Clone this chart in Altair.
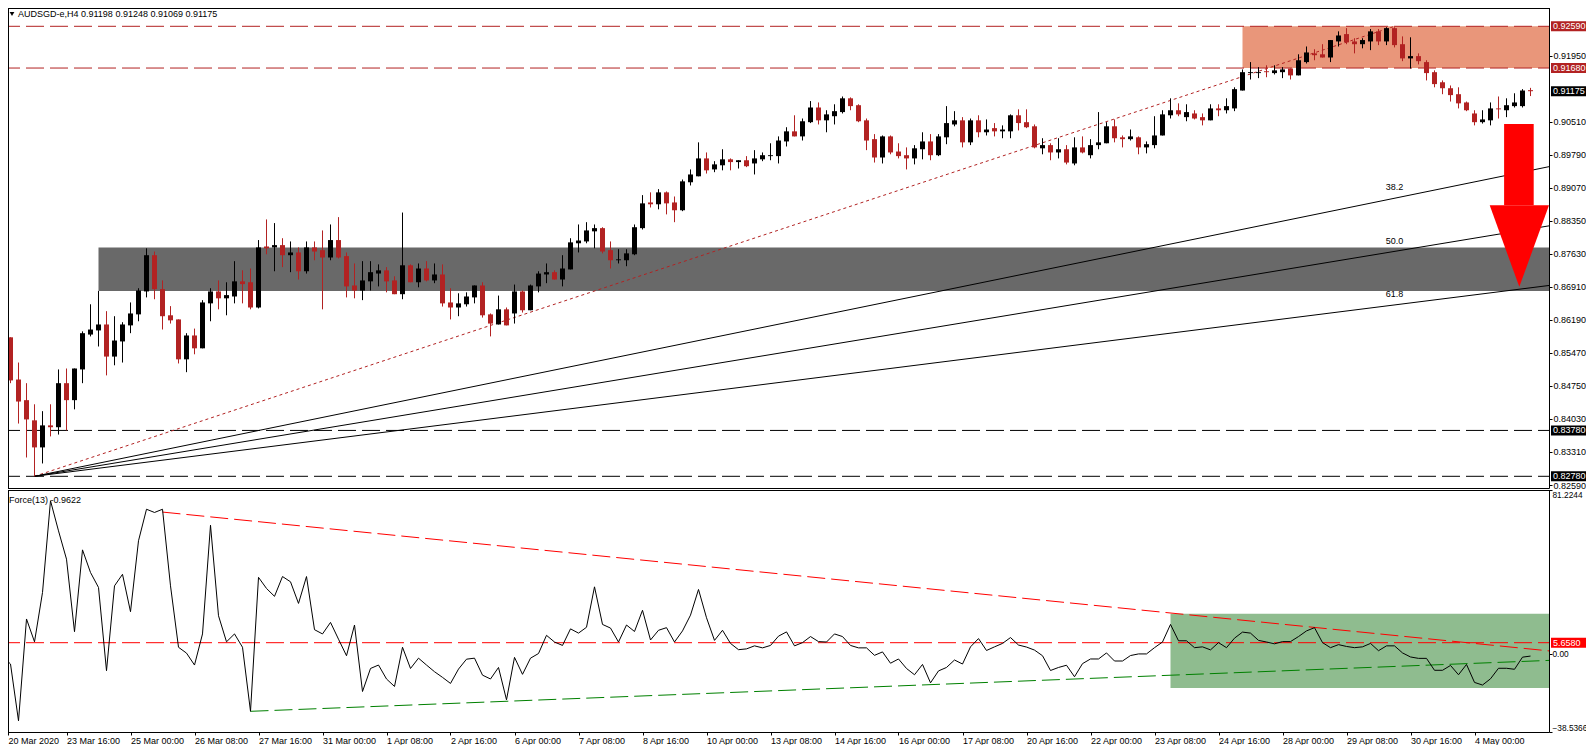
import altair as alt
import pandas as pd

FONT = "Liberation Sans"
FONT_SIZE = 9

# candles, one per 4 hours
opens = [
    .8473, .8581, .8489, .8444, .8400, .8341, .8389, .8385, .8481, .8444,
    .8511, .8587, .8596, .8609, .8539, .8572, .8607, .8631, .8681, .8760,
    .8686, .8629, .8620, .8533, .8585, .8557, .8655, .8681, .8666, .8670,
    .8703, .8701, .8646, .8779, .8777, .8782, .8760, .8766, .8725, .8777,
    .8771, .8755, .8793, .8758, .8694, .8683, .8703, .8720, .8727, .8705,
    .8675, .8738, .8701, .8731, .8705, .8718, .8657, .8646, .8653, .8668,
    .8694, .8631, .8609, .8642, .8633, .8681, .8640, .8692, .8718, .8723,
    .8707, .8729, .8786, .8790, .8812, .8819, .8771, .8749, .8749, .8762,
    .8819, .8875, .8871, .8897, .8875, .8858, .8919, .8932, .8971, .8947,
    .8956, .8969, .8963, .8967, .8960, .8969, .8976, .8976, .9008, .9030,
    .9019, .9050, .9082, .9054, .9063, .9072, .9102, .9087, .9054, .9013,
    .8973, .9019, .8986, .8978, .8971, .8991, .9008, .8978, .9017, .9045,
    .9054, .9006, .9054, .9028, .9037, .9030, .9030, .9065, .9050, .9041,
    .8993, .9000, .8984, .8991, .8960, .8995, .8978, .9000, .9004, .9041,
    .9017, .9013, .9017, .8995, .9000, .9021, .9065, .9076, .9061, .9069,
    .9061, .9054, .9080, .9076, .9080, .9119, .9157, .9157, .9161, .9157,
    .9159, .9167, .9152, .9181, .9200, .9198, .9191, .9226, .9242, .9226,
    .9220, .9226, .9248, .9226, .9255, .9220, .9189, .9194, .9181, .9159,
    .9137, .9124, .9111, .9093, .9069, .9050, .9054, .9080, .9076, .9085,
    .9085, .91198,
]
closes = [
    .8581, .8487, .8441, .8402, .8341, .8389, .8385, .8481, .8444, .8513,
    .8590, .8598, .8609, .8539, .8574, .8609, .8633, .8683, .8760, .8686,
    .8627, .8618, .8533, .8585, .8557, .8657, .8681, .8666, .8673, .8703,
    .8697, .8646, .8777, .8775, .8782, .8760, .8766, .8725, .8777, .8768,
    .8755, .8793, .8755, .8692, .8683, .8705, .8723, .8727, .8703, .8675,
    .8738, .8701, .8731, .8705, .8718, .8655, .8646, .8655, .8670, .8694,
    .8629, .8611, .8642, .8607, .8681, .8640, .8694, .8720, .8723, .8707,
    .8731, .8788, .8792, .8814, .8819, .8768, .8749, .8751, .8764, .8821,
    .8873, .8871, .8897, .8873, .8858, .8921, .8936, .8971, .8945, .8958,
    .8969, .8963, .8967, .8954, .8971, .8978, .8978, .9010, .9030, .9019,
    .9052, .9082, .9054, .9067, .9074, .9102, .9085, .9052, .9010, .8973,
    .9019, .8984, .8976, .8971, .8993, .9008, .8978, .9019, .9048, .9054,
    .9006, .9054, .9028, .9034, .9030, .9034, .9065, .9048, .9039, .8995,
    .9000, .8984, .8991, .8962, .8995, .8984, .9000, .9006, .9041, .9015,
    .9013, .9019, .8995, .9002, .9021, .9067, .9076, .9067, .9072, .9058,
    .9054, .9080, .9076, .9085, .9122, .9159, .9159, .9159, .9159, .9163,
    .9165, .9152, .9185, .9202, .9196, .9191, .9229, .9239, .9224, .9220,
    .9229, .9248, .9226, .9255, .9218, .9189, .9194, .9183, .9157, .9133,
    .9124, .9109, .9091, .9076, .9050, .9056, .9080, .9078, .9087, .9093,
    .9119, .91175,
]
highs = [
    .8633, .8581, .8526, .8481, .8435, .8420, .8435, .8511, .8513, .8513,
    .8594, .8653, .8682, .8638, .8627, .8614, .8657, .8688, .8775, .8768,
    .8705, .8649, .8620, .8590, .8600, .8662, .8688, .8705, .8701, .8747,
    .8727, .8731, .8793, .8838, .8830, .8797, .8790, .8777, .8790, .8790,
    .8814, .8827, .8843, .8766, .8742, .8747, .8747, .8740, .8734, .8714,
    .8853, .8740, .8742, .8747, .8742, .8740, .8688, .8677, .8679, .8694,
    .8701, .8633, .8672, .8646, .8696, .8683, .8696, .8725, .8742, .8727,
    .8760, .8797, .8827, .8832, .8827, .8821, .8790, .8773, .8773, .8827,
    .8891, .8897, .8904, .8899, .8888, .8925, .8947, .9006, .8984, .8965,
    .8991, .8971, .8967, .8976, .8989, .8984, .9004, .9019, .9039, .9065,
    .9058, .9096, .9093, .9076, .9089, .9106, .9104, .9089, .9058, .9024,
    .9021, .9021, .9004, .8995, .9000, .9028, .9024, .9024, .9085, .9074,
    .9061, .9058, .9065, .9056, .9048, .9043, .9067, .9078, .9078, .9045,
    .9015, .9004, .9015, .9000, .9017, .9019, .9013, .9072, .9050, .9056,
    .9021, .9034, .9019, .9008, .9063, .9076, .9102, .9091, .9089, .9076,
    .9069, .9089, .9089, .9102, .9126, .9165, .9181, .9170, .9174, .9174,
    .9170, .9167, .9198, .9215, .9209, .9220, .9229, .9248, .9255, .9233,
    .9233, .9253, .9253, .9257, .9257, .9237, .9235, .9200, .9185, .9163,
    .9141, .9130, .9126, .9095, .9076, .9076, .9093, .9106, .9102, .9113,
    .9122, .91248,
]
lows = [
    .8464, .8481, .8393, .8319, .8278, .8306, .8365, .8369, .8378, .8424,
    .8481, .8583, .8561, .8498, .8520, .8526, .8590, .8616, .8668, .8664,
    .8598, .8611, .8524, .8505, .8544, .8557, .8616, .8642, .8629, .8655,
    .8655, .8642, .8644, .8762, .8725, .8734, .8723, .8707, .8720, .8749,
    .8642, .8749, .8753, .8668, .8666, .8662, .8683, .8692, .8679, .8675,
    .8664, .8701, .8690, .8703, .8699, .8648, .8620, .8627, .8648, .8655,
    .8624, .8583, .8609, .8607, .8611, .8635, .8640, .8679, .8699, .8707,
    .8692, .8729, .8766, .8786, .8775, .8764, .8731, .8742, .8736, .8760,
    .8816, .8864, .8860, .8849, .8832, .8856, .8912, .8932, .8938, .8941,
    .8945, .8945, .8949, .8952, .8936, .8965, .8967, .8960, .8997, .9019,
    .9010, .9048, .9045, .9028, .9045, .9069, .9076, .9050, .8989, .8962,
    .8960, .8980, .8971, .8947, .8958, .8969, .8967, .8976, .9002, .9041,
    .8995, .9000, .9017, .9021, .9019, .9015, .9015, .9032, .9037, .8993,
    .8980, .8967, .8971, .8958, .8956, .8982, .8971, .8991, .9004, .9006,
    .8995, .9010, .8980, .8982, .8993, .9021, .9058, .9063, .9052, .9056,
    .9043, .9054, .9063, .9069, .9074, .9119, .9143, .9146, .9148, .9154,
    .9146, .9143, .9152, .9178, .9185, .9191, .9181, .9215, .9220, .9200,
    .9211, .9207, .9218, .9218, .9213, .9183, .9167, .9176, .9141, .9126,
    .9111, .9095, .9080, .9074, .9043, .9047, .9043, .9058, .9061, .9082,
    .9082, .91069,
]

# force index, same bars
force_values = [
    -0.97, -4.9, -33.0, 17.4, 6.1, 30.5, 75.9, 61.0, 47.0, 11.1,
    51.6, 40.4, 33.0, -8.2, 33.8, 39.5, 21.0, 56.1, 71.7, 70.1,
    71.7, 33.8, 3.4, 0.5, -5.4, 10.0, 63.8, 19.0, 6.1, 10.0,
    3.4, -28.3, 38.0, 32.5, 28.6, 38.4, 35.8, 25.1, 38.4, 12.1,
    10.0, 15.7, 7.4, -0.8, 14.4, -18.5, -7.1, -5.4, -12.3, -16.0,
    3.4, -7.1, -2.0, -5.4, -8.7, -11.5, -14.5, -7.4, -2.5, -2.0,
    -10.4, -12.3, -6.6, -22.6, -1.6, -10.0, -2.0, 0.3, 9.3, 6.0,
    4.3, 12.5, 10.4, 13.3, 33.3, 14.7, 12.9, 6.0, 14.4, 11.2,
    21.7, 7.0, 11.8, 13.1, 6.0, 11.5, 19.3, 32.0, 18.0, 6.8,
    11.8, 5.3, 2.2, 2.6, 4.1, 3.1, 4.3, 8.9, 11.0, 4.1,
    5.7, 8.7, 6.2, 6.0, 10.0, 8.7, 4.3, 3.1, 3.1, -0.6,
    1.1, -4.5, -2.4, -7.1, -10.2, -5.1, -14.2, -8.3, -6.6, -2.9,
    -4.9, 3.6, 7.7, 1.8, 3.6, 5.3, 8.2, 4.5, 3.5, 2.0,
    -0.8, -8.1, -6.6, -5.5, -11.2, -4.7, -2.4, -2.4, 0.6, -3.4,
    -3.4, -0.7, 0.1, 0.1, 3.2, 6.0, 14.7, 6.6, 6.6, 3.2,
    3.6, 2.1, 5.7, 3.2, 7.9, 10.9, 10.4, 6.8, 6.0, 5.1,
    6.2, 6.2, 8.7, 11.5, 13.1, 5.7, 3.2, 4.7, 3.8, 3.2,
    3.6, 5.3, 1.7, 4.1, 4.1, 0.6, -1.4, -2.1, -2.1, -8.0,
    -8.0, -5.6, -10.2, -5.1, -14.0, -15.3, -12.2, -7.0, -7.0, -7.5,
    -1.5, -0.96,
]

date_labels = [
    "20 Mar 2020", "23 Mar 16:00", "25 Mar 00:00", "26 Mar 08:00", "27 Mar 16:00",
    "31 Mar 00:00", "1 Apr 08:00", "2 Apr 16:00", "6 Apr 00:00", "7 Apr 08:00",
    "8 Apr 16:00", "10 Apr 00:00", "13 Apr 08:00", "14 Apr 16:00", "16 Apr 00:00",
    "17 Apr 08:00", "20 Apr 16:00", "22 Apr 00:00", "23 Apr 08:00", "24 Apr 16:00",
    "28 Apr 00:00", "29 Apr 08:00", "30 Apr 16:00", "4 May 00:00",
]
price_ticks = [
    .9195, .9051, .8979, .8907, .8835, .8763, .8691, .8619, .8547, .8475,
    .8403, .8331, .8259,
]
force_ticks = [81.2244, 0, -38.5366]

WIDTH = 1541
PRICE_BOTTOM = 480
FORCE_TOP, FORCE_BOTTOM = 482, 724
TAG_LEFT, TAG_RIGHT = 1543, 1578

X_MIN, X_MAX = 0.6875, 193.3125
PRICE_MIN, PRICE_MAX = 0.82525, 0.92989
FORCE_MIN, FORCE_MAX = -38.5366, 81.2244

FIRST_BAR, HIGH_BAR, LOW_PRICE, HIGH_PRICE = 4, 174, 0.8278, 0.9259

bars = pd.DataFrame({"bar": range(len(opens)), "open": opens, "close": closes, "high": highs, "low": lows})
bars["direction"] = ["up" if c >= o else "down" for o, c in zip(opens, closes)]
force = pd.DataFrame({"bar": range(len(force_values)), "force": force_values})

x_scale = alt.Scale(domain=[X_MIN, X_MAX], nice=False, zero=False)
price_scale = alt.Scale(domain=[PRICE_MIN, PRICE_MAX], range=[PRICE_BOTTOM, 0], nice=False, zero=False)
force_scale = alt.Scale(domain=[FORCE_MIN, FORCE_MAX], range=[FORCE_BOTTOM, FORCE_TOP], nice=False, zero=False)

# every layer has to carry the same axis or Vega-Lite drops the merge
date_axis = alt.Axis(values=[X_MIN] + [8 * k for k in range(1, len(date_labels))],
                     labelExpr="[" + ",".join(f"'{d}'" for d in date_labels) + "][round(datum.value / 8)]",
                     title=None, grid=False, domain=False, tickSize=3, labelAlign="left",
                     labelPadding=1, labelOverlap=False, labelBound=False, labelFlush=False)
price_axis = alt.Axis(orient="right", values=price_ticks, format=".5f", title=None, grid=False,
                      domain=False, tickSize=3, labelPadding=1, labelOverlap=False)
force_axis = alt.Axis(orient="right", values=force_ticks, title=None, grid=False, domain=False, tickSize=3,
                      labelPadding=0, labelFontSize=8.3, labelFlush=True, labelOverlap=False,
                      labelExpr="datum.value == 0 ? '0.00' : format(datum.value, '.4f')")


def x_enc(field):
    return alt.X(field, type="quantitative", scale=x_scale, axis=date_axis)


def price_enc(field):
    return alt.Y(field, type="quantitative", scale=price_scale, axis=price_axis)


def force_enc(field):
    return alt.Y(field, type="quantitative", scale=force_scale, axis=force_axis)


def zones(rows, color, y_enc):
    return alt.Chart(pd.DataFrame(rows)).mark_rect(color=color, clip=True).encode(
        x=x_enc("x"), x2="x2", y=y_enc("y"), y2="y2")


def segments(rows, color, y_enc, dash=(18, 6), offset=0):
    return alt.Chart(pd.DataFrame(rows)).mark_rule(
        color=color, strokeWidth=1, strokeDash=list(dash), strokeDashOffset=offset, clip=True
    ).encode(x=x_enc("x"), x2="x2", y=y_enc("y"), y2="y2")


def tags(rows, y_enc):
    df = pd.DataFrame(rows)
    box = alt.Chart(df).mark_rule(strokeWidth=10).encode(
        x=alt.value(TAG_LEFT), x2=alt.value(TAG_RIGHT), y=y_enc("value"),
        color=alt.Color("fill:N", scale=None))
    text = alt.Chart(df).mark_text(align="left", baseline="middle", font=FONT, fontSize=FONT_SIZE, color="white").encode(
        x=alt.value(TAG_LEFT + 2), y=y_enc("value"), text="label:N")
    return [box, text]


def caption(label, x, y):
    return alt.Chart(pd.DataFrame({"label": [label]})).mark_text(
        align="left", baseline="middle", font=FONT, fontSize=FONT_SIZE, color="black"
    ).encode(x=alt.value(x), y=alt.value(y), text="label:N")


def frame_line(x, x2, y, y2):
    return alt.Chart(pd.DataFrame({"m": [1]})).mark_rule(color="black", strokeWidth=1).encode(
        x=alt.value(x), x2=alt.value(x2), y=alt.value(y), y2=alt.value(y2))


# price panel
candle_color = alt.Color("direction:N", scale=alt.Scale(domain=["up", "down"], range=["#000000", "#B22222"]), legend=None)

wicks = alt.Chart(bars).mark_rule(strokeWidth=1, clip=True).encode(
    x=x_enc("bar"), y=price_enc("high"), y2="low", color=candle_color)
bodies = alt.Chart(bars).mark_rule(strokeWidth=5, clip=True).encode(
    x=x_enc("bar"), y=price_enc("open"), y2="close", color=candle_color)

gray_zone = zones([{"x": 12, "x2": X_MAX, "y": 0.8777, "y2": 0.8682}], "#696969", price_enc)
orange_zone = zones([{"x": 155, "x2": X_MAX, "y": 0.9259, "y2": 0.9168}], "#E9967A", price_enc)

red_levels = segments([
    {"x": X_MIN, "x2": X_MAX, "y": 0.9259, "y2": 0.9259},
    {"x": X_MIN, "x2": X_MAX, "y": 0.9168, "y2": 0.9168},
], "#B22222", price_enc, offset=6)
black_levels = segments([
    {"x": X_MIN, "x2": X_MAX, "y": 0.8378, "y2": 0.8378},
    {"x": X_MIN, "x2": X_MAX, "y": 0.8278, "y2": 0.8278},
], "#000000", price_enc, offset=6)
fan_base = segments([{"x": FIRST_BAR, "x2": HIGH_BAR, "y": LOW_PRICE, "y2": HIGH_PRICE}], "#B22222", price_enc, dash=(3, 3))
fan_lines = alt.Chart(pd.DataFrame({
    "x": [FIRST_BAR] * 3, "x2": [X_MAX] * 3, "y": [LOW_PRICE] * 3, "y2": [0.8953, 0.8824, 0.8694],
})).mark_rule(color="black", strokeWidth=1, clip=True).encode(x=x_enc("x"), x2="x2", y=price_enc("y"), y2="y2")

fan_labels = alt.Chart(pd.DataFrame({"bar": [174, 174, 174], "y": [0.8909, 0.8791, 0.8676], "label": ["38.2", "50.0", "61.8"]})).mark_text(
    align="center", baseline="middle", font=FONT, fontSize=FONT_SIZE, color="black"
).encode(x=x_enc("bar"), y=price_enc("y"), text="label:N")

arrow_shaft = zones([{"x": 187.7, "x2": 191.4, "y": 0.9046, "y2": 0.8869}], "#FF0000", price_enc)
arrow_head = alt.Chart(pd.DataFrame({
    "x": [185.9, 189.6, X_MAX], "y": [0.8869, 0.8869, 0.8869], "y2": [0.8869, 0.8691, 0.8869],
})).mark_area(color="#FF0000", orient="vertical", clip=True).encode(x=x_enc("x"), y=price_enc("y"), y2="y2")

price_tags = tags([
    {"value": 0.9259, "label": "0.92590", "fill": "#B22222"},
    {"value": 0.9168, "label": "0.91680", "fill": "#B22222"},
    {"value": 0.91175, "label": "0.91175", "fill": "#000000"},
    {"value": 0.8378, "label": "0.83780", "fill": "#000000"},
    {"value": 0.8278, "label": "0.82780", "fill": "#000000"},
], price_enc)

marker = alt.Chart(pd.DataFrame({"m": [1]})).mark_point(shape="triangle-down", filled=True, color="black", size=22, opacity=1).encode(
    x=alt.value(4), y=alt.value(6))

top = alt.layer(
    gray_zone, orange_zone, red_levels, black_levels, fan_base, fan_lines, fan_labels,
    wicks, bodies, arrow_shaft, arrow_head, *price_tags, marker,
    caption("AUDSGD-e,H4  0.91198 0.91248 0.91069 0.91175", 10, 6),
)

# force panel
green_zone = zones([{"x": 146, "x2": X_MAX, "y": 20.0, "y2": -16.7}], "#8FBC8F", force_enc)
force_level = segments([{"x": X_MIN, "x2": X_MAX, "y": 5.658, "y2": 5.658}], "#FF0000", force_enc, offset=6)
force_down = segments([{"x": 20, "x2": X_MAX, "y": 70.3, "y2": 1.6}], "#FF0000", force_enc)
force_up = segments([{"x": 31, "x2": X_MAX, "y": -28.3, "y2": -3.1}], "#008000", force_enc)

force_line = alt.Chart(force).mark_line(color="black", strokeWidth=1, clip=True).encode(
    x=x_enc("bar"), y=force_enc("force"))

force_tag = tags([{"value": 5.658, "label": "5.6580", "fill": "#FF0000"}], force_enc)

bottom = alt.layer(
    green_zone, force_level, force_down, force_up, force_line, *force_tag,
    caption("Force(13) -0.9622", 1, 492),
)

# the two panel frames
frame = alt.layer(
    frame_line(0, WIDTH + 0.5, 0.5, 0.5),
    frame_line(0, WIDTH + 0.5, PRICE_BOTTOM + 0.5, PRICE_BOTTOM + 0.5),
    frame_line(0, WIDTH + 0.5, FORCE_TOP + 0.5, FORCE_TOP + 0.5),
    frame_line(0, WIDTH + 0.5, FORCE_BOTTOM + 0.5, FORCE_BOTTOM + 0.5),
    frame_line(0.5, 0.5, 0, PRICE_BOTTOM + 0.5),
    frame_line(0.5, 0.5, FORCE_TOP, FORCE_BOTTOM + 0.5),
    frame_line(WIDTH + 0.5, WIDTH + 0.5, 0, PRICE_BOTTOM + 0.5),
    frame_line(WIDTH + 0.5, WIDTH + 0.5, FORCE_TOP, FORCE_BOTTOM + 0.5),
)

chart = alt.layer(top, bottom, frame).resolve_scale(y="independent").resolve_axis(y="independent").properties(
    width=WIDTH, height=FORCE_BOTTOM,
    autosize=alt.AutoSizeParams(type="none"),
    padding={"left": 0, "top": 0, "right": TAG_RIGHT - WIDTH, "bottom": 13},
    background="white",
).configure_view(stroke=None).configure_axis(
    labelFont=FONT, labelFontSize=FONT_SIZE, labelColor="black", tickColor="black", tickWidth=1
)

chart.save("out.html", embed_options={"renderer": "svg", "actions": False})
